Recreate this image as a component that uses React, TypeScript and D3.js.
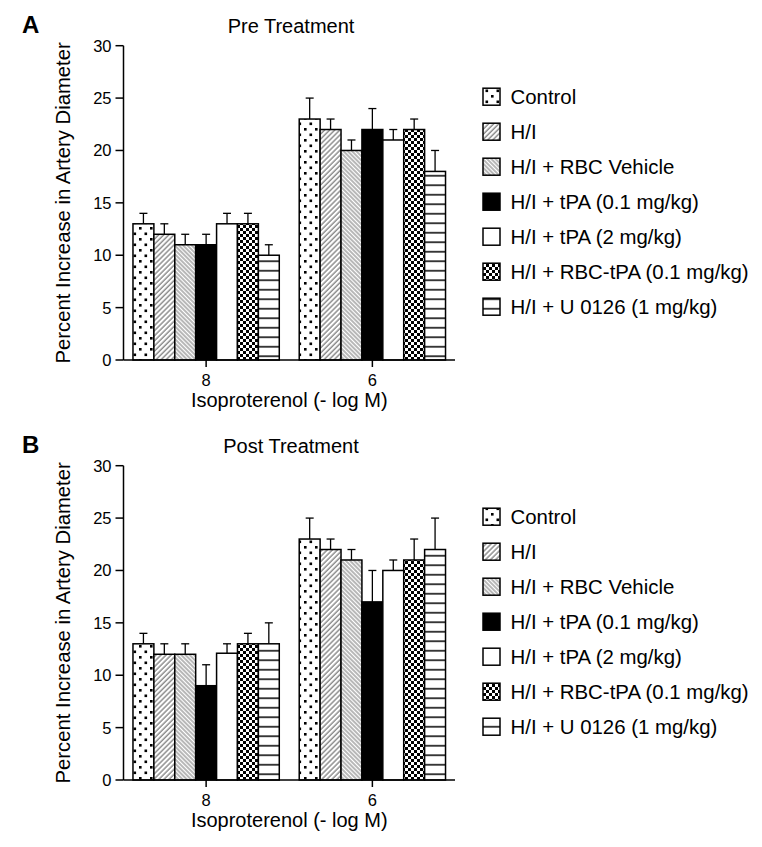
import React from "react";
import * as d3 from "d3";

const groups = ["8", "6"];
const series = [
  "Control",
  "H/I",
  "H/I + RBC Vehicle",
  "H/I + tPA (0.1 mg/kg)",
  "H/I + tPA (2 mg/kg)",
  "H/I + RBC-tPA (0.1 mg/kg)",
  "H/I + U 0126 (1 mg/kg)",
];
const patternIds = ["dots", "fdiag", "bdiag", "solid", "white", "checker", "hlines"];

// Pre treatment: mean and upper error (top of whisker) per group [8, 6]
const preMeans = [
  [13, 23],
  [12, 22],
  [11, 20],
  [11, 22],
  [13, 21],
  [13, 22],
  [10, 18],
];
const preErrTops = [
  [14, 25],
  [13, 23],
  [12, 21],
  [12, 24],
  [14, 22],
  [14, 23],
  [11, 20],
];
const postMeans = [
  [13, 23],
  [12, 22],
  [12, 21],
  [9, 17],
  [12.1, 20],
  [13, 21],
  [13, 22],
];
const postErrTops = [
  [14, 25],
  [13, 23],
  [13, 22],
  [11, 20],
  [13, 21],
  [14, 23],
  [15, 25],
];
const yTicks = [0, 5, 10, 15, 20, 25, 30];

const FONT = "'Liberation Sans', Arial, Helvetica, sans-serif";

function fillFor(id: string) {
  if (id === "solid") return "#000";
  if (id === "white") return "#fff";
  return `url(#${id})`;
}

function Panel({
  letter,
  title,
  means,
  errTops,
  yTop,
  yBottom,
}: {
  letter: string;
  title: string;
  means: number[][];
  errTops: number[][];
  yTop: number;
  yBottom: number;
}) {
  const axisLeft = 123.5;
  const axisRight = 455;
  const y = d3.scaleLinear().domain([0, 30]).range([yBottom, yTop]);
  const x0 = d3
    .scaleBand<string>()
    .domain(groups)
    .range([axisLeft, axisRight])
    .paddingInner(0.12)
    .paddingOuter(0.057);
  const x1 = d3
    .scaleBand<string>()
    .domain(series)
    .range([0, x0.bandwidth()])
    .padding(0);
  const legendTop = yTop + 51;
  const legendStep = 35;
  const cx = (axisLeft + axisRight) / 2;
  return (
    <g>
      <text x={22} y={yTop - 13} fontSize={24} fontWeight="bold" fontFamily={FONT}>
        {letter}
      </text>
      <text x={291} y={yTop - 12.5} fontSize={20} textAnchor="middle" fontFamily={FONT}>
        {title}
      </text>
      {/* bars */}
      {groups.map((g, gi) => (
        <g key={g}>
          {series.map((s, si) => {
            const bx = (x0(g) as number) + (x1(s) as number);
            const bw = x1.bandwidth();
            const v = means[si][gi];
            const et = errTops[si][gi];
            const mid = bx + bw / 2;
            return (
              <g key={s}>
                <line x1={mid} x2={mid} y1={y(v)} y2={y(et)} stroke="#000" strokeWidth={1.3} />
                <line x1={mid - 4} x2={mid + 4} y1={y(et)} y2={y(et)} stroke="#000" strokeWidth={1.3} />
                <rect
                  x={bx}
                  y={y(v)}
                  width={bw}
                  height={y(0) - y(v)}
                  fill={fillFor(patternIds[si])}
                  stroke="#000"
                  strokeWidth={1.5}
                />
              </g>
            );
          })}
        </g>
      ))}
      {/* y axis */}
      <line x1={axisLeft} x2={axisLeft} y1={yTop} y2={yBottom} stroke="#000" strokeWidth={1.5} />
      {yTicks.map((t) => (
        <g key={t}>
          <line x1={axisLeft - 8} x2={axisLeft} y1={y(t)} y2={y(t)} stroke="#000" strokeWidth={1.5} />
          <text
            x={axisLeft - 12}
            y={y(t) + 6}
            fontSize={16.5}
            textAnchor="end"
            fontFamily={FONT}
          >
            {t}
          </text>
        </g>
      ))}
      {/* x axis */}
      <line x1={axisLeft} x2={axisRight} y1={yBottom} y2={yBottom} stroke="#000" strokeWidth={1.5} />
      {groups.map((g) => {
        const gx = (x0(g) as number) + x0.bandwidth() / 2;
        return (
          <g key={g}>
            <line x1={gx} x2={gx} y1={yBottom} y2={yBottom + 7} stroke="#000" strokeWidth={1.5} />
            <text x={gx} y={yBottom + 26} fontSize={16.5} textAnchor="middle" fontFamily={FONT}>
              {g}
            </text>
          </g>
        );
      })}
      <text x={cx} y={yBottom + 47} fontSize={20} textAnchor="middle" fontFamily={FONT}>
        Isoproterenol (- log M)
      </text>
      <text
        transform={`translate(70, ${(yTop + yBottom) / 2}) rotate(-90)`}
        fontSize={20.3}
        textAnchor="middle"
        fontFamily={FONT}
      >
        Percent Increase in Artery Diameter
      </text>
      {/* legend */}
      {series.map((s, si) => {
        const ly = legendTop + si * legendStep;
        return (
          <g key={s}>
            <rect
              x={483}
              y={ly - 8.5}
              width={17}
              height={17}
              fill={fillFor(patternIds[si])}
              stroke="#000"
              strokeWidth={1.5}
            />
            <text x={510.5} y={ly + 7.5} fontSize={20.4} fontFamily={FONT}>
              {s}
            </text>
          </g>
        );
      })}
    </g>
  );
}

export default function App() {
  return (
    <svg
      width={762}
      height={847}
      style={{ position: "absolute", left: 0, top: 0, background: "#fff" }}
    >
      <defs>
        <pattern id="dots" patternUnits="userSpaceOnUse" width={11} height={11}>
          <rect width={11} height={11} fill="#fff" />
          <rect x={1.5} y={1.5} width={2.6} height={2.6} fill="#000" />
          <rect x={7} y={7} width={2.6} height={2.6} fill="#000" />
        </pattern>
        <pattern
          id="fdiag"
          patternUnits="userSpaceOnUse"
          width={3.6}
          height={10}
          patternTransform="rotate(45)"
        >
          <rect width={3.6} height={10} fill="#fff" />
          <line x1={1} x2={1} y1={0} y2={10} stroke="#000" strokeWidth={0.7} />
        </pattern>
        <pattern
          id="bdiag"
          patternUnits="userSpaceOnUse"
          width={3.0}
          height={10}
          patternTransform="rotate(-45)"
        >
          <rect width={3.0} height={10} fill="#fff" />
          <line x1={1} x2={1} y1={0} y2={10} stroke="#111" strokeWidth={0.6} />
        </pattern>
        <pattern id="checker" patternUnits="userSpaceOnUse" width={6} height={6}>
          <rect width={6} height={6} fill="#fff" />
          <rect x={0} y={0} width={3} height={3} fill="#000" />
          <rect x={3} y={3} width={3} height={3} fill="#000" />
        </pattern>
        <pattern id="hlines" patternUnits="userSpaceOnUse" width={10} height={9.5} y={0}>
          <rect width={10} height={9.5} fill="#fff" />
          <line x1={0} x2={10} y1={4.75} y2={4.75} stroke="#000" strokeWidth={1.5} />
        </pattern>
      </defs>
      <Panel
        letter="A"
        title="Pre Treatment"
        means={preMeans}
        errTops={preErrTops}
        yTop={45.7}
        yBottom={360}
      />
      <Panel
        letter="B"
        title="Post Treatment"
        means={postMeans}
        errTops={postErrTops}
        yTop={465.7}
        yBottom={780}
      />
    </svg>
  );
}
